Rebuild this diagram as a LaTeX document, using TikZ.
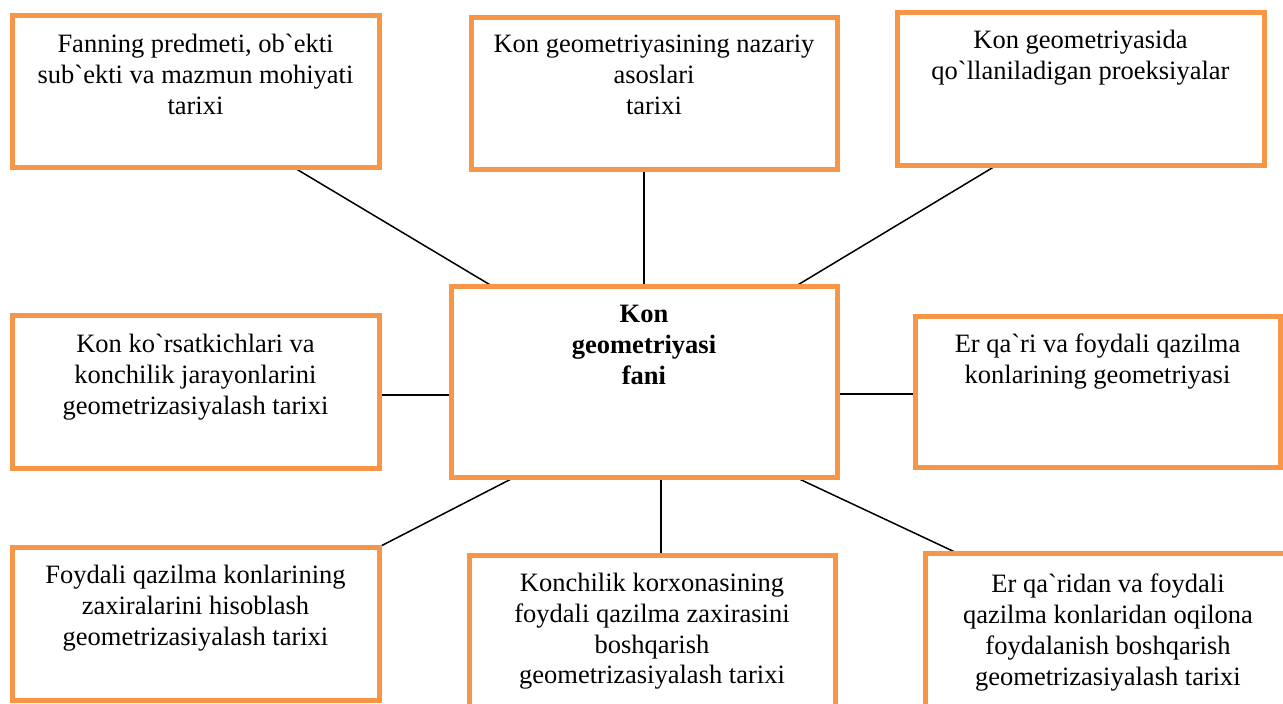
\documentclass[tikz,border=0pt]{standalone}
\usepackage{fontspec}
\setmainfont{Liberation Serif}[Ligatures=TeXOff]
\usetikzlibrary{calc,backgrounds}
\definecolor{boxorange}{HTML}{F79646}
\begin{document}
\begin{tikzpicture}[x=1pt,y=-1pt,
  box/.style={draw=boxorange,line width=5pt,rectangle,inner sep=0pt,outer sep=0pt,anchor=north west},
  txt/.style={anchor=north,inner sep=0pt,align=center,font=\fontsize{26.5}{30.8}\selectfont},
  conn/.style={draw=black,line width=1.5pt}]
\useasboundingbox (0,0) rectangle (1283,704);
% boxes
\node[box,minimum width=367pt,minimum height=152pt] (b1) at (12,15) {};
\node[box,minimum width=366pt,minimum height=152pt] (b2) at (471,17) {};
\node[box,minimum width=367pt,minimum height=153pt] (b3) at (897,12) {};
\node[box,minimum width=367pt,minimum height=153pt] (b4) at (12,315) {};
\node[box,minimum width=386pt,minimum height=191pt] (c) at (451,286) {};
\node[box,minimum width=365pt,minimum height=151pt] (b6) at (915,316) {};
\node[box,minimum width=367pt,minimum height=153pt] (b7) at (12,547) {};
\node[box,minimum width=366pt,minimum height=153pt] (b8) at (469,555) {};
\node[box,minimum width=366pt,minimum height=153pt] (b9) at (925,553) {};
% texts
\node[txt] (t1) at ($(b1.north)+(0,19)$) {Fanning predmeti, ob`ekti\\sub`ekti va mazmun mohiyati\\tarixi};
\node[txt] (t2) at ($(b2.north)+(0,18)$) {Kon geometriyasining nazariy\\asoslari\\tarixi};
\node[txt] (t3) at ($(b3.north)+(0,18)$) {Kon geometriyasida\\qo`llaniladigan proeksiyalar};
\node[txt] (t4) at ($(b4.north)+(0,19)$) {Kon ko`rsatkichlari va\\konchilik jarayonlarini\\geometrizasiyalash tarixi};
\node[txt,font=\fontsize{26.5}{31}\selectfont\bfseries] (tc) at ($(c.north)+(0,19)$) {Kon\\geometriyasi\\fani};
\node[txt] (t6) at ($(b6.north)+(0,18)$) {Er qa`ri va foydali qazilma\\konlarining geometriyasi};
\node[txt] (t7) at ($(b7.north)+(0,18)$) {Foydali qazilma konlarining\\zaxiralarini hisoblash\\geometrizasiyalash tarixi};
\node[txt] (t8) at ($(b8.north)+(0,18)$) {Konchilik korxonasining\\foydali qazilma zaxirasini\\boshqarish\\geometrizasiyalash tarixi};
\node[txt] (t9) at ($(b9.north)+(0,21)$) {Er qa`ridan va foydali\\qazilma konlaridan oqilona\\foydalanish boshqarish\\geometrizasiyalash tarixi};
% connectors
\begin{pgfonlayer}{background}
\draw[conn] ($(b1.south west)+(281,0)$) -- ($(c.north west)+(41,0)$);
\draw[conn] (b2.south -| c.north) -- (c.north);
\draw[conn] ($(b3.south west)+(100,0)$) -- ($(c.north west)+(345,0)$);
\draw[conn] ($(b4.north east)+(0,80)$) coordinate (p4) -- (p4 -| c.west);
\draw[conn] ($(b6.north west)+(0,78)$) coordinate (p6) -- (p6 -| c.east);
\draw[conn] ($(b7.north east)+(0,0)$) -- ($(c.south west)+(64,0)$);
\draw[conn] ($(b8.north west)+(192,0)$) -- ($(c.south west)+(210,0)$);
\draw[conn] ($(b9.north west)+(32,0)$) -- ($(c.south west)+(344,0)$);
\end{pgfonlayer}
\end{tikzpicture}
\end{document}
